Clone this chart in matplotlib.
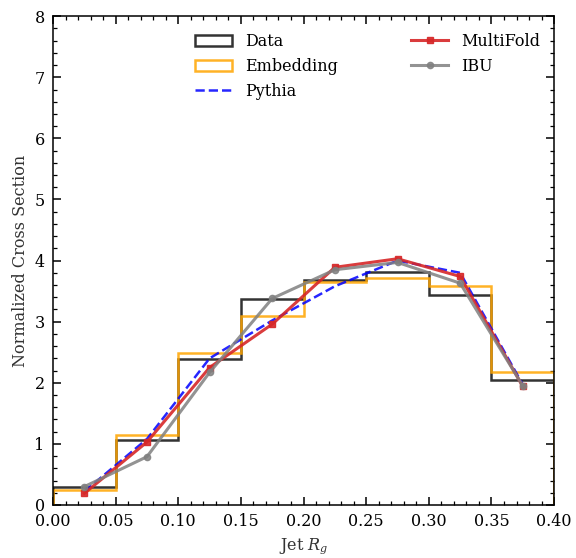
import matplotlib
matplotlib.use("Agg")
import matplotlib.pyplot as plt
import numpy as np
from matplotlib.ticker import MultipleLocator

plt.rcParams['font.family'] = ['DejaVu Serif']
plt.rcParams['mathtext.fontset'] = 'dejavuserif'

bin_edges = [0.0, 0.05, 0.10, 0.15, 0.20, 0.25, 0.30, 0.35, 0.40]
bin_centers = [0.025, 0.075, 0.125, 0.175, 0.225, 0.275, 0.325, 0.375]
data_vals = [0.30, 1.07, 2.39, 3.37, 3.68, 3.81, 3.43, 2.05]
embed_vals = [0.25, 1.15, 2.49, 3.10, 3.65, 3.72, 3.59, 2.18]
pythia_vals = [0.22, 1.08, 2.40, 3.02, 3.58, 4.00, 3.80, 1.97]
multifold_vals = [0.19, 1.03, 2.25, 2.96, 3.89, 4.03, 3.74, 1.94]
ibu_vals = [0.30, 0.79, 2.17, 3.38, 3.85, 3.97, 3.63, 1.95]

fig = plt.figure(figsize=(5.76, 5.58), dpi=100)
ax = fig.add_axes([0.092, 0.095, 0.870, 0.876])

ax.hist(bin_centers, bins=bin_edges, weights=data_vals, histtype='step',
        color='black', lw=1.8, alpha=0.8, label='Data')
ax.hist(bin_centers, bins=bin_edges, weights=embed_vals, histtype='step',
        color='orange', lw=1.8, alpha=0.85, label='Embedding')
ax.plot(bin_centers, pythia_vals, '--', color='blue', lw=1.8, alpha=0.85, label='Pythia')
ax.plot(bin_centers, multifold_vals, '-s', color='#d62728', lw=2.2, ms=5,
        alpha=0.9, label='MultiFold')
ax.plot(bin_centers, ibu_vals, '-o', color='gray', lw=2.2, ms=4.5,
        alpha=0.85, label='IBU')

ax.set_xlim(0, 0.40)
ax.set_ylim(0, 8)
ax.xaxis.set_major_locator(MultipleLocator(0.05))
ax.xaxis.set_minor_locator(MultipleLocator(0.01))
ax.yaxis.set_major_locator(MultipleLocator(1))
ax.yaxis.set_minor_locator(MultipleLocator(0.2))
ax.xaxis.set_major_formatter(matplotlib.ticker.FormatStrFormatter('%.2f'))
ax.tick_params(which='both', direction='in', top=True, right=True, labelsize=11.5)
ax.tick_params(which='major', length=6, width=1.1)
ax.tick_params(which='minor', length=3, width=0.9)
ax.tick_params(axis='x', which='major', pad=6)
ax.tick_params(axis='y', which='major', pad=6)
for s in ax.spines.values():
    s.set_linewidth(1.1)

ax.set_xlabel('Jet $R_g$', fontsize=11.5, color='#333333')
ax.set_ylabel('Normalized Cross Section', fontsize=11.5, color='#333333')

handles, labels = ax.get_legend_handles_labels()
order = [labels.index(l) for l in ['Data', 'Embedding', 'Pythia', 'MultiFold', 'IBU']]
ax.legend([handles[i] for i in order], [labels[i] for i in order], ncol=2,
          loc='upper right', frameon=False, fontsize=11.5, bbox_to_anchor=(1.0, 0.995),
          columnspacing=4.6, handlelength=2.3)

fig.savefig('out.png', dpi=100)
